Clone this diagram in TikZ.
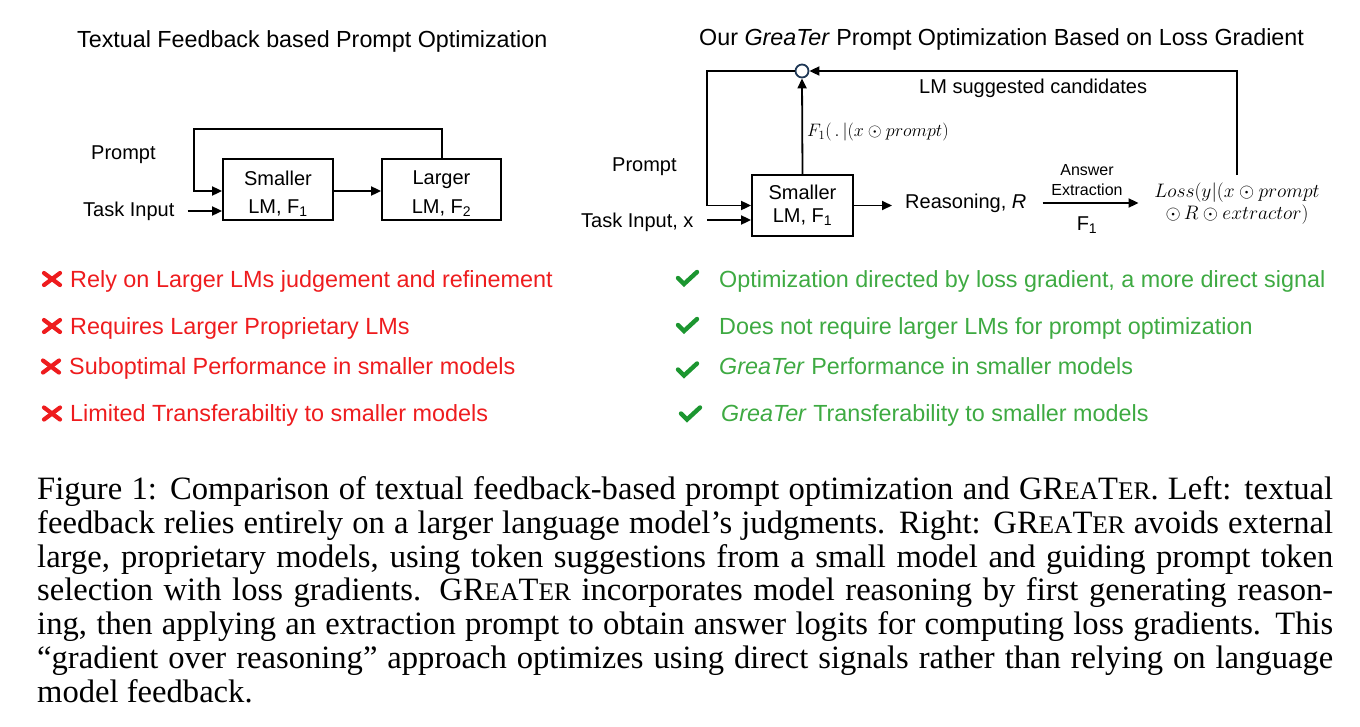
\RequirePackage{fix-cm}
\documentclass[tikz,border=0pt]{standalone}
\usepackage[no-math]{fontspec}
\setmainfont{Liberation Sans}
\newfontfamily\capfont{Liberation Serif}
\usetikzlibrary{arrows.meta,calc}
\definecolor{xred}{RGB}{238,28,30}
\definecolor{okgreen}{RGB}{62,170,66}
\definecolor{chkgreen}{RGB}{28,150,48}
\definecolor{navy}{RGB}{30,55,85}
\newcommand\GTname{GR{\fontsize{25.4}{34}\selectfont EA}T{\fontsize{25.4}{34}\selectfont ER}}
\tikzset{
  lmbox/.style={draw, line width=1.8pt, inner sep=0pt, align=center},
  boxtxt/.style={inner sep=0pt, align=center, font=\fontsize{20}{28.5}\selectfont},
  conn/.style={line width=1.8pt},
  arr/.style={conn, -{Triangle[length=10pt,width=9pt]}},
  lbl/.style={inner sep=0pt, font=\fontsize{20}{24}\selectfont},
  ttl/.style={inner sep=0pt, anchor=base west, font=\fontsize{23.3}{28}\selectfont},
  bad/.style={inner sep=0pt, anchor=base west, text=xred, font=\fontsize{23.4}{28}\selectfont},
  good/.style={inner sep=0pt, anchor=base west, text=okgreen, font=\fontsize{23.35}{28}\selectfont},
  xm/.style={draw=xred, line width=4.2pt, line cap=round},
  ck/.style={draw=chkgreen, line width=4.4pt, line cap=round},
  capline/.style={inner sep=0pt, anchor=base west, font=\capfont\fontsize{32.6}{34}\selectfont},
}
\begin{document}
\begin{tikzpicture}[x=1pt,y=-1pt]
\useasboundingbox (0,0) rectangle (1360,726);

% ---------------- left diagram ----------------
\node[ttl] (tL) at (77,47) {Textual Feedback based Prompt Optimization};
\node[lmbox, minimum width=110pt, minimum height=61pt] (sL) at (278,189.5) {};
\node[boxtxt] (sLt) at ([yshift=-4pt]sL.center) {Smaller\\LM, F\textsubscript{1}};
\node[lmbox, minimum width=119pt, minimum height=61pt] (lL) at (441.5,189.5) {};
\node[boxtxt] (lLt) at ([yshift=-4pt]lL.center) {Larger\\LM, F\textsubscript{2}};
\node[lbl, anchor=west] (prL) at (91,155) {Prompt};
\node[lbl, anchor=west] (tiL) at (83,211) {Task Input};
\coordinate (fbA) at (442,129);
\coordinate (fbB) at (194,129);
\draw[arr] (lL.north -| fbA) -- (fbA) -- (fbB) |- ([yshift=-1.5pt]sL.west);
\draw[arr] ([yshift=-1.5pt]sL.east) -- ([yshift=-1.5pt]lL.west);
\draw[arr] ([xshift=13pt]tiL.east) -- (tiL.east -| sL.west);

% ---------------- right diagram ----------------
\node[ttl] (tR) at (699,45) {Our \textit{GreaTer} Prompt Optimization Based on Loss Gradient};
\node[draw=navy, circle, line width=1.8pt, minimum size=13pt, inner sep=0pt] (cir) at (802,71) {};
\node[lmbox, font=\fontsize{20}{23}\selectfont, minimum width=101pt, minimum height=61pt] (sR) at (802.5,205.5) {Smaller\\LM, F\textsubscript{1}};
\node[lbl, anchor=west] (prR) at (612,167) {Prompt};
\node[lbl, anchor=west] (tiR) at (581,222) {Task Input, x};
\node[lbl, anchor=west] (rea) at (905,203) {Reasoning, \textit{R}};
\node[lbl, anchor=west] (cand) at (919,88) {LM suggested candidates};
\node[inner sep=0pt, anchor=west, font=\fontsize{18}{21}\selectfont] (f1lab) at (807,132) {$F_1(\,.\,|(x\odot prompt)$};
\node[inner sep=0pt, align=center, font=\fontsize{19.5}{22}\selectfont] (loss) at (1237,204) {$Loss(y|(x\odot prompt$\\$\odot\, R\odot extractor)$};
\node[inner sep=0pt, align=center, font=\fontsize{16}{20}\selectfont] (aeT) at (1087,180) {Answer\\Extraction};
\node[lbl, anchor=base] (aeB) at (1087,230) {F\textsubscript{1}};

\coordinate (lpA) at (707,71);
\coordinate (lpB) at (1237,71);
\coordinate (lpC) at (1237,175);
\draw[arr] (sR.north) -- (cir.south);
\draw[arr] (cir.west) -- (lpA) |- (sR.west);
\draw[arr] ([yshift=2pt]tiR.east -| lpA) -- ([yshift=2pt]tiR.east -| sR.west);
\draw[arr] (sR.east) -- ([xshift=-13pt]rea.west |- sR.east);
\draw[arr] (lpC) -- (lpB) -- (cir.east);
\draw[arr] ([xshift=16pt]rea.east) -- ([xshift=112pt]rea.east);

% ---------------- bullets ----------------
\node[bad] (b1) at (70,287) {Rely on Larger LMs judgement and refinement};
\node[bad] (b2) at (70,334) {Requires Larger Proprietary LMs};
\node[bad] (b3) at (69,374.5) {Suboptimal Performance in smaller models};
\node[bad] (b4) at (70,421.5) {Limited Transferabiltiy to smaller models};
\foreach \b in {b1,b2,b3,b4}{
  \draw[xm] ($(\b.base west)+(-26,-14)$) -- ($(\b.base west)+(-10,-2)$);
  \draw[xm] ($(\b.base west)+(-26,-2)$) -- ($(\b.base west)+(-10,-14)$);
}
\node[good] (g1) at (719,287) {Optimization directed by loss gradient, a more direct signal};
\node[good] (g2) at (719,334) {Does not require larger LMs for prompt optimization};
\node[good] (g3) at (719,374.5) {\textit{GreaTer} Performance in smaller models};
\node[good] (g4) at (721,421.5) {\textit{GreaTer} Transferability to smaller models};
\draw[ck] ($(g1.base west)+(-41,-9)$) -- ($(g1.base west)+(-35,-3)$) -- ($(g1.base west)+(-22,-15)$);
\draw[ck] ($(g2.base west)+(-41,-9)$) -- ($(g2.base west)+(-35,-3)$) -- ($(g2.base west)+(-22,-15)$);
\draw[ck] ($(g3.base west)+(-41,-5)$) -- ($(g3.base west)+(-35,1)$) -- ($(g3.base west)+(-22,-11)$);
\draw[ck] ($(g4.base west)+(-40,-8)$) -- ($(g4.base west)+(-34,-2)$) -- ($(g4.base west)+(-21,-14)$);

% ---------------- caption ----------------
\node[capline] (cap1) at (37,499) {\makebox[1296pt][s]{Figure 1: Comparison of textual feedback-based prompt optimization and \GTname. Left: textual}};
\node[capline] (cap2) at (37,533) {\makebox[1296pt][s]{feedback relies entirely on a larger language model’s judgments. Right: \GTname{} avoids external}};
\node[capline] (cap3) at (37,567) {\makebox[1296pt][s]{large, proprietary models, using token suggestions from a small model and guiding prompt token}};
\node[capline] (cap4) at (37,600) {\makebox[1296pt][s]{selection with loss gradients. \GTname{} incorporates model reasoning by first generating reason-}};
\node[capline] (cap5) at (37,634) {\makebox[1296pt][s]{ing, then applying an extraction prompt to obtain answer logits for computing loss gradients. This}};
\node[capline] (cap6) at (37,668) {\makebox[1296pt][s]{“gradient over reasoning” approach optimizes using direct signals rather than relying on language}};
\node[capline] (cap7) at (37,702) {model feedback.};
\end{tikzpicture}
\end{document}
